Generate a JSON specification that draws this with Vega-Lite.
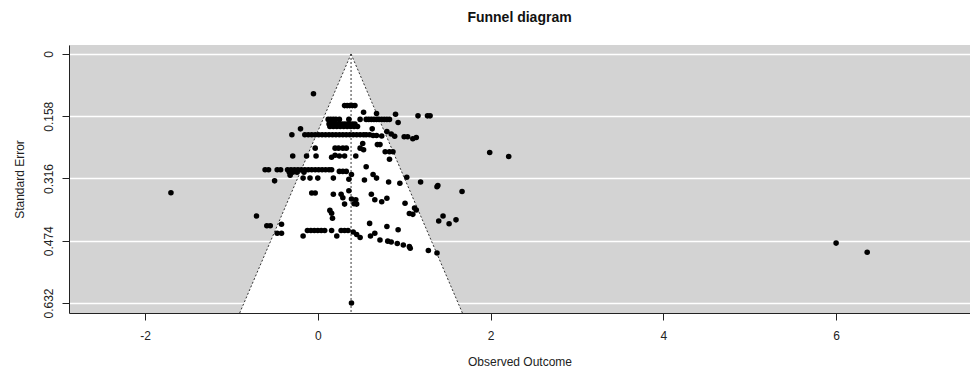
{
  "$schema": "https://vega.github.io/schema/vega-lite/v6.json",
  "width": 901,
  "height": 268,
  "autosize": {"type": "none"},
  "padding": {"left": 69, "top": 45, "right": 0, "bottom": 60},
  "config": {
    "font": "Liberation Sans",
    "view": {"fill": "#d3d3d3", "stroke": null},
    "axis": {"labelFont": "Liberation Sans", "titleFont": "Liberation Sans", "labelColor": "#222", "titleColor": "#222", "titleFontWeight": "normal", "labelFontSize": 12, "titleFontSize": 12, "domainColor": "#222", "tickColor": "#222", "tickSize": 7}
  },
  "title": {"text": "Funnel diagram", "fontSize": 14, "fontWeight": "bold", "font": "Liberation Sans", "color": "#111", "anchor": "middle", "offset": 20},
  "datasets": {
    "funnel": [
      {"se": 0, "lo": 0.385, "hi": 0.385},
      {"se": 0.6574, "lo": -0.904, "hi": 1.674}
    ],
    "edges": [
      {"x1": 0.385, "s1": 0, "x2": -0.904, "s2": 0.6574},
      {"x1": 0.385, "s1": 0, "x2": 1.674, "s2": 0.6574},
      {"x1": 0.385, "s1": 0, "x2": 0.385, "s2": 0.6574}
    ],
    "studies": [
      {"x": -0.05, "se": 0.101},
      {"x": 0.31, "se": 0.131}, {"x": 0.34, "se": 0.131}, {"x": 0.37, "se": 0.131}, {"x": 0.40, "se": 0.131}, {"x": 0.43, "se": 0.131},
      {"x": 0.53, "se": 0.148}, {"x": 0.68, "se": 0.151}, {"x": 0.90, "se": 0.153},
      {"x": 1.16, "se": 0.157}, {"x": 1.27, "se": 0.157}, {"x": 1.30, "se": 0.157},
      {"x": 0.12, "se": 0.166}, {"x": 0.15, "se": 0.166}, {"x": 0.18, "se": 0.166}, {"x": 0.21, "se": 0.166}, {"x": 0.25, "se": 0.166},
      {"x": 0.36, "se": 0.166}, {"x": 0.49, "se": 0.166}, {"x": 0.56, "se": 0.166}, {"x": 0.59, "se": 0.166}, {"x": 0.62, "se": 0.166},
      {"x": 0.65, "se": 0.166}, {"x": 0.68, "se": 0.166}, {"x": 0.71, "se": 0.166}, {"x": 0.74, "se": 0.166}, {"x": 0.77, "se": 0.166},
      {"x": 0.80, "se": 0.166}, {"x": 0.83, "se": 0.166},
      {"x": 0.93, "se": 0.174},
      {"x": 0.13, "se": 0.178}, {"x": 0.16, "se": 0.178}, {"x": 0.19, "se": 0.178}, {"x": 0.22, "se": 0.178}, {"x": 0.25, "se": 0.178},
      {"x": 0.28, "se": 0.178}, {"x": 0.31, "se": 0.178}, {"x": 0.34, "se": 0.178}, {"x": 0.37, "se": 0.178}, {"x": 0.40, "se": 0.178}, {"x": 0.43, "se": 0.178},
      {"x": 0.14, "se": 0.184}, {"x": 0.18, "se": 0.184}, {"x": 0.22, "se": 0.184}, {"x": 0.26, "se": 0.184}, {"x": 0.30, "se": 0.184},
      {"x": 0.34, "se": 0.184}, {"x": 0.38, "se": 0.184}, {"x": 0.42, "se": 0.184}, {"x": 0.46, "se": 0.184},
      {"x": -0.20, "se": 0.190}, {"x": 0.63, "se": 0.190},
      {"x": 0.80, "se": 0.197}, {"x": 0.85, "se": 0.203},
      {"x": -0.30, "se": 0.205}, {"x": -0.15, "se": 0.205}, {"x": -0.11, "se": 0.205}, {"x": -0.07, "se": 0.205}, {"x": -0.03, "se": 0.205},
      {"x": 0.01, "se": 0.205}, {"x": 0.05, "se": 0.205}, {"x": 0.09, "se": 0.205}, {"x": 0.13, "se": 0.205}, {"x": 0.17, "se": 0.205},
      {"x": 0.21, "se": 0.205}, {"x": 0.25, "se": 0.205}, {"x": 0.29, "se": 0.205}, {"x": 0.33, "se": 0.205}, {"x": 0.37, "se": 0.205},
      {"x": 0.41, "se": 0.205}, {"x": 0.45, "se": 0.205}, {"x": 0.49, "se": 0.205}, {"x": 0.53, "se": 0.205}, {"x": 0.56, "se": 0.205},
      {"x": 0.60, "se": 0.205}, {"x": 0.64, "se": 0.207}, {"x": 0.68, "se": 0.207}, {"x": 0.74, "se": 0.208},
      {"x": 0.89, "se": 0.209}, {"x": 1.00, "se": 0.210}, {"x": 1.04, "se": 0.210}, {"x": 1.10, "se": 0.215}, {"x": 1.14, "se": 0.212},
      {"x": 0.52, "se": 0.227}, {"x": 0.69, "se": 0.230}, {"x": 0.72, "se": 0.230},
      {"x": -0.03, "se": 0.239}, {"x": 0.20, "se": 0.239}, {"x": 0.24, "se": 0.239}, {"x": 0.29, "se": 0.239}, {"x": 0.33, "se": 0.239},
      {"x": 0.49, "se": 0.239}, {"x": 0.53, "se": 0.243},
      {"x": 0.78, "se": 0.248}, {"x": 0.83, "se": 0.248}, {"x": 0.87, "se": 0.248},
      {"x": 1.99, "se": 0.250}, {"x": 2.21, "se": 0.260},
      {"x": -0.29, "se": 0.259}, {"x": -0.13, "se": 0.259}, {"x": -0.02, "se": 0.259}, {"x": 0.16, "se": 0.262}, {"x": 0.20, "se": 0.257},
      {"x": 0.25, "se": 0.259}, {"x": 0.31, "se": 0.259}, {"x": 0.44, "se": 0.259},
      {"x": 0.83, "se": 0.267}, {"x": 0.56, "se": 0.286},
      {"x": -0.61, "se": 0.294}, {"x": -0.57, "se": 0.294}, {"x": -0.47, "se": 0.294}, {"x": -0.43, "se": 0.294}, {"x": -0.35, "se": 0.294},
      {"x": -0.31, "se": 0.294}, {"x": -0.27, "se": 0.294}, {"x": -0.23, "se": 0.294}, {"x": -0.19, "se": 0.294}, {"x": -0.15, "se": 0.294},
      {"x": -0.11, "se": 0.294}, {"x": -0.07, "se": 0.294}, {"x": -0.03, "se": 0.294}, {"x": 0.01, "se": 0.294}, {"x": 0.05, "se": 0.294},
      {"x": 0.09, "se": 0.294}, {"x": 0.13, "se": 0.294}, {"x": 0.16, "se": 0.294},
      {"x": -0.33, "se": 0.300}, {"x": -0.29, "se": 0.300}, {"x": -0.24, "se": 0.300}, {"x": -0.16, "se": 0.300},
      {"x": -0.32, "se": 0.308},
      {"x": -0.17, "se": 0.315}, {"x": -0.09, "se": 0.315}, {"x": 0.00, "se": 0.315}, {"x": 0.18, "se": 0.315},
      {"x": 0.25, "se": 0.298}, {"x": 0.29, "se": 0.298}, {"x": 0.33, "se": 0.298},
      {"x": 0.36, "se": 0.318}, {"x": 0.39, "se": 0.306},
      {"x": 0.54, "se": 0.320}, {"x": 0.64, "se": 0.306}, {"x": 0.68, "se": 0.315}, {"x": 0.82, "se": 0.325}, {"x": 0.95, "se": 0.328},
      {"x": 1.03, "se": 0.313}, {"x": 1.19, "se": 0.325}, {"x": 1.38, "se": 0.337}, {"x": 1.39, "se": 0.334}, {"x": 1.67, "se": 0.349},
      {"x": -0.50, "se": 0.322},
      {"x": -1.70, "se": 0.352},
      {"x": -0.07, "se": 0.353}, {"x": -0.03, "se": 0.353}, {"x": 0.18, "se": 0.356},
      {"x": 0.27, "se": 0.356}, {"x": 0.29, "se": 0.365}, {"x": 0.39, "se": 0.368}, {"x": 0.62, "se": 0.356}, {"x": 0.66, "se": 0.370},
      {"x": 0.74, "se": 0.375}, {"x": 0.80, "se": 0.366}, {"x": 1.01, "se": 0.379}, {"x": 0.31, "se": 0.381}, {"x": 0.45, "se": 0.381},
      {"x": 0.36, "se": 0.347}, {"x": 0.42, "se": 0.380}, {"x": 0.44, "se": 0.370},
      {"x": 1.12, "se": 0.391}, {"x": 1.14, "se": 0.396},
      {"x": 0.14, "se": 0.397}, {"x": 0.16, "se": 0.404}, {"x": 0.17, "se": 0.417}, {"x": 1.06, "se": 0.405}, {"x": 1.10, "se": 0.407},
      {"x": -0.71, "se": 0.411},
      {"x": 1.45, "se": 0.411}, {"x": 1.40, "se": 0.424}, {"x": 1.52, "se": 0.431}, {"x": 1.60, "se": 0.421},
      {"x": 0.60, "se": 0.430}, {"x": -0.42, "se": 0.432},
      {"x": -0.59, "se": 0.436}, {"x": -0.55, "se": 0.436}, {"x": 0.80, "se": 0.438},
      {"x": 0.93, "se": 0.446},
      {"x": -0.12, "se": 0.448}, {"x": -0.08, "se": 0.448}, {"x": -0.04, "se": 0.448}, {"x": 0.00, "se": 0.448}, {"x": 0.04, "se": 0.448},
      {"x": 0.08, "se": 0.448}, {"x": 0.16, "se": 0.448}, {"x": 0.27, "se": 0.448}, {"x": 0.31, "se": 0.448}, {"x": 0.35, "se": 0.448},
      {"x": 0.41, "se": 0.452},
      {"x": -0.47, "se": 0.455}, {"x": -0.42, "se": 0.455},
      {"x": -0.17, "se": 0.462}, {"x": 0.22, "se": 0.462}, {"x": 0.45, "se": 0.458}, {"x": 0.49, "se": 0.466}, {"x": 0.61, "se": 0.462},
      {"x": 0.66, "se": 0.455},
      {"x": 0.72, "se": 0.472}, {"x": 0.81, "se": 0.475}, {"x": 0.85, "se": 0.477}, {"x": 0.92, "se": 0.481}, {"x": 0.99, "se": 0.485},
      {"x": 1.06, "se": 0.489}, {"x": 1.07, "se": 0.493},
      {"x": 1.28, "se": 0.499}, {"x": 1.38, "se": 0.505},
      {"x": 6.00, "se": 0.480}, {"x": 6.36, "se": 0.503},
      {"x": 0.39, "se": 0.632}
    ]
  },
  "layer": [
    {
      "data": {"name": "funnel"},
      "mark": {"type": "area", "orient": "horizontal", "color": "white", "opacity": 1, "clip": true},
      "encoding": {
        "y": {"field": "se", "type": "quantitative", "scale": {"domain": [-0.0228, 0.6574], "reverse": true, "nice": false, "zero": false},
          "axis": {"values": [0, 0.158, 0.316, 0.474, 0.632], "labelExpr": "'' + datum.value", "title": "Standard Error", "labelAngle": -90, "labelPadding": 7, "titlePadding": 16, "grid": true, "gridColor": "white", "gridWidth": 1.5, "gridOpacity": 1}},
        "x": {"field": "lo", "type": "quantitative", "scale": {"domain": [-2.88, 7.55], "nice": false, "zero": false},
          "axis": {"values": [-2, 0, 2, 4, 6], "labelExpr": "'' + datum.value", "title": "Observed Outcome", "grid": false, "labelPadding": 10, "titlePadding": 15}},
        "x2": {"field": "hi"}
      }
    },
    {
      "data": {"name": "edges"},
      "mark": {"type": "rule", "color": "#333", "strokeDash": [2, 2], "strokeWidth": 1, "clip": true},
      "encoding": {
        "x": {"field": "x1", "type": "quantitative"},
        "y": {"field": "s1", "type": "quantitative"},
        "x2": {"field": "x2"},
        "y2": {"field": "s2"}
      }
    },
    {
      "data": {"name": "studies"},
      "mark": {"type": "circle", "color": "black", "opacity": 1, "size": 31},
      "encoding": {
        "x": {"field": "x", "type": "quantitative"},
        "y": {"field": "se", "type": "quantitative"}
      }
    }
  ]
}
